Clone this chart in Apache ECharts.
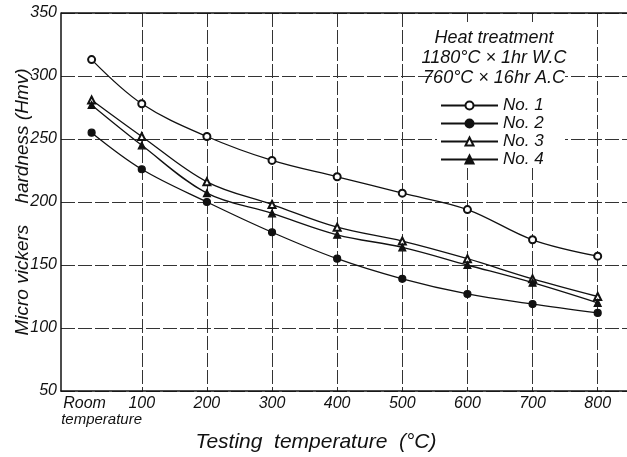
<!DOCTYPE html>
<html>
<head>
<meta charset="utf-8">
<script src="https://cdn.jsdelivr.net/npm/echarts@6/dist/echarts.min.js"></script>
<style>
  html, body { margin: 0; padding: 0; background: #fff; }
  #chart { width: 627px; height: 457px; }
</style>
</head>
<body>
<div id="chart"></div>
<script>
// testing temperatures (room temperature is about 23 degC)
var temps = [23, 100, 200, 300, 400, 500, 600, 700, 800];
var gridTemps = [100, 200, 300, 400, 500, 600, 700, 800];
// first entry sits on the axis minimum and stays blank
var labelTemps = [-24, 23, 100, 200, 300, 400, 500, 600, 700, 800];

// micro vickers hardness (Hmv)
var no1 = [313, 278, 252, 233, 220, 207, 194, 170, 157];
var no2 = [255, 226, 200, 176, 155, 139, 127, 119, 112];
var no3 = [281, 252, 216, 198, 180, 169, 155, 139, 125];
var no4 = [277, 245, 207, 191, 174, 164, 150, 136, 120];

var names = ['No. 1', 'No. 2', 'No. 3', 'No. 4'];
var symbols = ['emptyCircle', 'circle', 'emptyTriangle', 'triangle'];
var heatLines = ['Heat treatment', '1180°C × 1hr W.C', '760°C × 16hr A.C'];

var FONT = "'Liberation Sans Narrow', 'Liberation Sans', sans-serif";
var INK = '#111';

function pairs(vals) {
    var out = [];
    for (var i = 0; i < temps.length; i++) {
        out.push([temps[i], vals[i]]);
    }
    return out;
}

var series = [no1, no2, no3, no4].map(function (vals, i) {
    return {
        name: names[i],
        type: 'line',
        smooth: 0.35,
        symbol: symbols[i],
        symbolSize: 7,
        itemStyle: { color: INK, borderColor: INK, borderWidth: 1.2 },
        lineStyle: { color: INK, width: 1.3 },
        data: pairs(vals),
        z: 3
    };
});

// heat treatment note, drawn above a white patch
var note = [{
    type: 'rect',
    shape: { x: 437, y: 22, width: 128, height: 146 },
    style: { fill: '#fff' },
    z: 5
}];
heatLines.forEach(function (t, i) {
    note.push({
        type: 'text',
        x: 494,
        y: 38 + i * 20,
        z: 8,
        style: {
            text: t,
            fontFamily: FONT, fontStyle: 'italic', fontSize: 18,
            fill: INK, align: 'center', verticalAlign: 'middle'
        }
    });
});
note.push({
    // frame top line
    type: 'line',
    shape: { x1: 61, y1: 13, x2: 627, y2: 13 },
    style: { stroke: INK, lineWidth: 1.5 },
    z: 7
});

var chart = echarts.init(document.getElementById('chart'));

var option = {
    backgroundColor: '#fff',
    animation: false,
    grid: { left: 61, right: 0, top: 13, bottom: 66, containLabel: false, outerBoundsMode: 'none' },
    legend: {
        orient: 'vertical',
        left: 440,
        top: 97,
        padding: 0,
        itemWidth: 57,
        itemHeight: 10,
        itemGap: 1,
        data: names,
        textStyle: { fontFamily: FONT, fontStyle: 'italic', fontSize: 17, color: INK },
        z: 10
    },
    xAxis: {
        type: 'value',
        min: -24,
        max: 845,
        name: 'Testing  temperature  (°C)',
        nameLocation: 'middle',
        nameGap: 40,
        nameTextStyle: {
            fontFamily: FONT, fontStyle: 'italic', fontSize: 21, color: INK,
            padding: [0, 56, 0, 0]
        },
        axisLine: { show: true, onZero: false, lineStyle: { color: INK, width: 1.5 } },
        axisTick: { show: false, customValues: gridTemps },
        splitLine: { show: true, lineStyle: { color: '#333', width: 1, type: [14, 3] } },
        axisLabel: {
            customValues: labelTemps,
            showMinLabel: false,
            hideOverlap: false,
            margin: 5,
            fontFamily: FONT, fontStyle: 'italic', fontSize: 16, color: INK,
            formatter: function (v) {
                if (v < 0) return '';
                if (v < 50) return '{a|Room}\n{b|temperature}';
                return String(v);
            },
            rich: {
                a: { fontFamily: FONT, fontStyle: 'italic', fontSize: 16, color: INK, width: 36, padding: [0, 14, 0, 0] },
                b: { fontFamily: FONT, fontStyle: 'italic', fontSize: 15, color: INK, width: 20, padding: [0, 0, 0, 20] }
            }
        }
    },
    yAxis: {
        type: 'value',
        min: 50,
        max: 350,
        interval: 50,
        name: 'Micro vickers    hardness (Hmv)',
        nameLocation: 'middle',
        nameGap: 29,
        nameMoveOverlap: false,
        nameTextStyle: { fontFamily: FONT, fontStyle: 'italic', fontSize: 19, color: INK },
        axisLine: { show: true, onZero: false, lineStyle: { color: INK, width: 1.5 } },
        axisTick: { show: false },
        splitLine: { show: true, lineStyle: { color: '#333', width: 1, type: [14, 3] } },
        axisLabel: {
            margin: 4,
            showMinLabel: true,
            fontFamily: FONT, fontStyle: 'italic', fontSize: 16, color: INK
        }
    },
    graphic: note,
    series: series
};

chart.setOption(option);
</script>
</body>
</html>
